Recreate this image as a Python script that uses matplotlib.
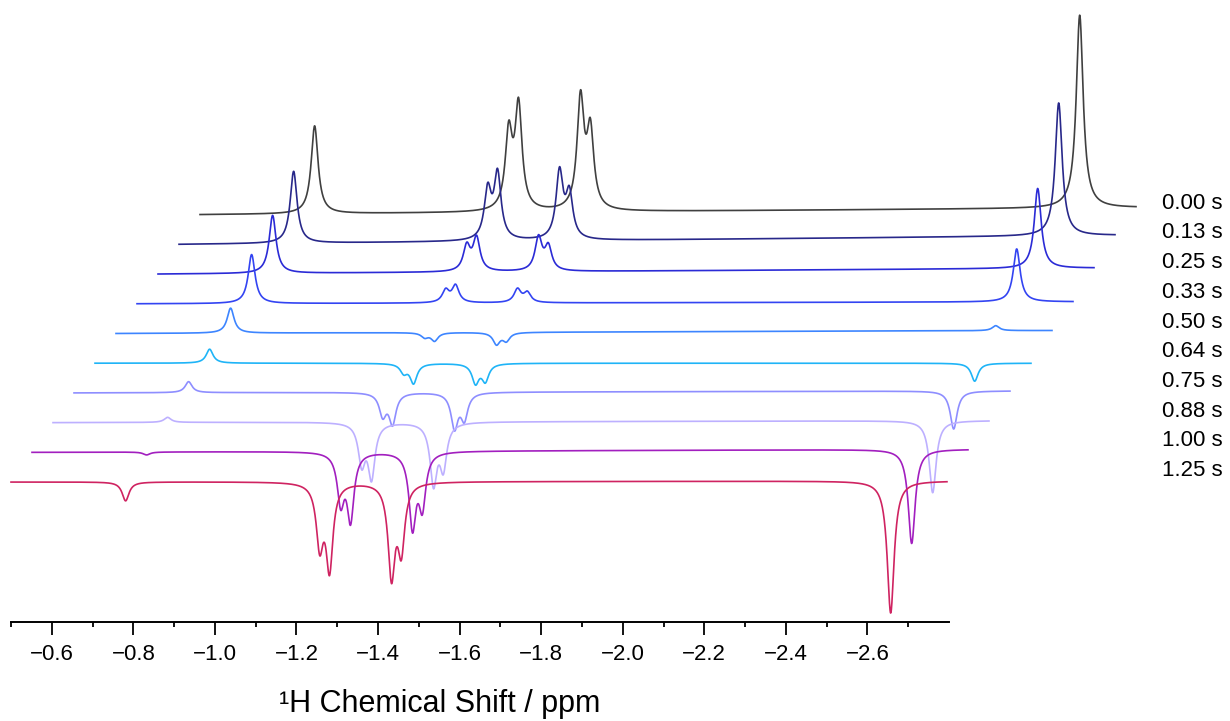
import numpy as np
import matplotlib.pyplot as plt
from matplotlib.ticker import FixedLocator

plt.rcParams['font.family'] = ['Liberation Sans', 'DejaVu Sans']

# recovery delays, top trace first
delays = ['0.00 s', '0.13 s', '0.25 s', '0.33 s', '0.50 s',
          '0.64 s', '0.75 s', '0.88 s', '1.00 s', '1.25 s']
colors = ['#404040', '#28288a', '#2b2bd6', '#3344f2', '#3d85ff',
          '#1fb4f7', '#8e8eff', '#bdb0ff', '#a21fbf', '#cf2361']

# resonance positions (ppm)
shifts = [-0.781, -1.257, -1.281, -1.433, -1.457, -2.657]

# observed peak heights (a.u.) for each delay, same order as shifts
heights = [
    [88, 92, 115, 122, 94, 193],
    [72, 59, 73, 74, 55, 133],
    [58, 30, 37, 37, 29, 80],
    [49, 15, 19, 15, 12, 53],
    [25, -6, -9, -13, -10, 5],
    [14, -12, -21, -22, -20, -18],
    [11, -27, -34, -39, -31, -38],
    [5, -48, -60, -67, -53, -72],
    [-3, -59, -74, -82, -64, -94],
    [-19, -74, -94, -102, -79, -132],
]

# baseline rise from left to right end of each trace (a.u.)
drift = [7, 9, 6, 2, 3, 0, 2, 2, 3, 1]

hwhm = 0.0102          # ppm
dx, dy = 0.0515, 29.7  # stacking offsets per trace

ppm = np.linspace(-0.5, -2.795, 5000)
pos = np.array(shifts)


def lorentz(x, x0):
    return 1.0 / (1.0 + ((x - x0) / hwhm) ** 2)


# amplitudes that give the listed heights once neighbouring lines overlap
overlap = lorentz(pos[:, None], pos[None, :])

fig = plt.figure(figsize=(12.3, 7.21), dpi=100)
ax = fig.add_axes([11 / 1230, 99 / 721, 938 / 1230, 622 / 721])

n = len(delays)
for k in range(n):
    s = n - 1 - k
    amps = np.linalg.solve(overlap, np.array(heights[k], dtype=float))
    spec = sum(a * lorentz(ppm, p) for a, p in zip(amps, pos))
    base = drift[k] * (ppm - ppm[0]) / (ppm[-1] - ppm[0])
    ax.plot(ppm - s * dx, spec + base + s * dy, color=colors[k],
            lw=1.2, clip_on=False, zorder=k + 2)
    ax.text(-3.322, s * dy + 11.5, delays[k], fontsize=16,
            ha='left', va='center', clip_on=False)

ax.set_xlim(-0.5, -2.8)
ax.set_ylim(-140, 482)

for side in ['left', 'right', 'top']:
    ax.spines[side].set_visible(False)
ax.spines['bottom'].set_linewidth(1.4)
ax.yaxis.set_visible(False)

ax.xaxis.set_major_locator(FixedLocator(np.round(np.arange(-0.6, -2.61, -0.2), 1)))
ax.xaxis.set_minor_locator(FixedLocator(np.round(np.arange(-0.5, -2.71, -0.2), 1)))
ax.tick_params(axis='x', which='major', length=9, width=1.3, pad=7, labelsize=16)
ax.tick_params(axis='x', which='minor', length=3.5, width=1.3)

fig.text(440 / 1230, 9 / 721, '\u00b9H Chemical Shift / ppm', fontsize=22,
         ha='center', va='baseline')

fig.savefig('out.png', dpi=100)
